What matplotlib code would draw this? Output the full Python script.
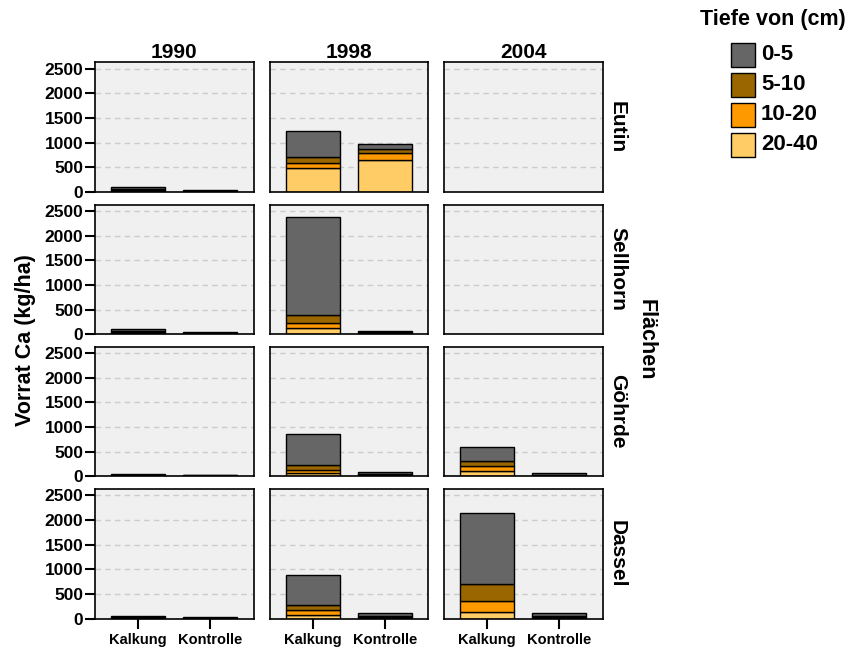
import numpy as np
import matplotlib
matplotlib.use("Agg")
import matplotlib.pyplot as plt
from matplotlib.patches import Rectangle

plt.rcParams['font.family'] = ['Liberation Sans', 'DejaVu Sans']
plt.rcParams['font.weight'] = 'bold'

sites = ["Eutin", "Sellhorn", "Göhrde", "Dassel"]
years = ["1990", "1998", "2004"]
treatments = ["Kalkung", "Kontrolle"]
depths = ["0-5", "5-10", "10-20", "20-40"]
colors = ["#666666", "#996600", "#FF9900", "#FFCC66"]

nan = np.nan
# [site][year][treatment], kg/ha
d0_5 = [[[40, 20], [520, 105], [nan, nan]],
        [[40, 16], [1990, 30], [nan, nan]],
        [[18, 14], [640, 40], [296, 24]],
        [[20, 10], [608, 67], [1434, 50]]]
d5_10 = [[[20, 10], [120, 70], [nan, nan]],
         [[20, 8], [162, 10], [nan, nan]],
         [[9, 7], [95, 16], [95, 12]],
         [[10, 5], [102, 20], [345, 20]]]
d10_20 = [[[20, 10], [115, 155], [nan, nan]],
          [[20, 8], [100, 12], [nan, nan]],
          [[9, 7], [67, 20], [102, 12]],
          [[10, 5], [101, 20], [223, 20]]]
d20_40 = [[[20, 10], [480, 645], [nan, nan]],
          [[20, 8], [128, 15], [nan, nan]],
          [[9, 7], [60, 20], [107, 12]],
          [[10, 5], [69, 15], [142, 20]]]
layers = [d20_40, d10_20, d5_10, d0_5]
layer_colors = [colors[3], colors[2], colors[1], colors[0]]

W, H = 855, 650
fig = plt.figure(figsize=(W / 100, H / 100), dpi=100)

col_left = [95, 269.5, 444]
pw, ph = 158.5, 129.7
row_top = [62.3, 204.5, 346.7, 489]

x = np.arange(1, len(treatments) + 1)
for i, site in enumerate(sites):
    for j, year in enumerate(years):
        ax = fig.add_axes([col_left[j] / W, 1 - (row_top[i] + ph) / H, pw / W, ph / H])
        ax.set_facecolor("#F0F0F0")
        ax.set_xlim(0.4, 2.6)
        ax.set_ylim(0, 2630)
        ax.set_yticks([0, 500, 1000, 1500, 2000, 2500])
        ax.yaxis.grid(True, color="#CCCCCC", linestyle=(0, (4, 3)), linewidth=1)
        ax.set_axisbelow(True)
        bottom = np.zeros(len(treatments))
        for lay, col in zip(layers, layer_colors):
            vals = np.array(lay[i][j], dtype=float)
            if np.all(np.isnan(vals)):
                continue
            ax.bar(x, vals, 0.75, bottom=bottom, color=col, edgecolor="black", linewidth=1.0)
            bottom = bottom + vals
        for s in ax.spines.values():
            s.set_linewidth(1.2)
        ax.tick_params(width=1.5, length=7, labelsize=12.5, pad=1.5)
        if j == 0:
            ax.tick_params(axis='y', left=True, labelleft=True)
        else:
            ax.tick_params(axis='y', left=False, labelleft=False)
        if i == len(sites) - 1:
            ax.set_xticks(x)
            ax.set_xticklabels(treatments, fontsize=10.5, fontweight='bold')
            ax.tick_params(axis='x', pad=3)
        else:
            ax.set_xticks([])
        for lab in ax.get_yticklabels():
            lab.set_fontweight('bold')
        if i == 0:
            ax.set_title(year, fontsize=15, fontweight='bold', pad=3)
        if j == len(years) - 1:
            ax.text(1.035, 0.5, site, transform=ax.transAxes, rotation=-90,
                    ha='left', va='center', fontsize=15, fontweight='bold')

fig.text(25 / W, 1 - 340 / H, "Vorrat Ca (kg/ha)", rotation=90, ha='center', va='center',
         fontsize=15.5, fontweight='bold')
fig.text(646 / W, 1 - 340 / H, "Flächen", rotation=-90, ha='center', va='center',
         fontsize=15.5, fontweight='bold')

# legend drawn by hand
fig.text(773 / W, 1 - 20 / H, "Tiefe von (cm)", ha='center', va='center',
         fontsize=15.5, fontweight='bold')
key_top = [42.7, 73, 103, 132.5]
for lab, col, kt in zip(depths, colors, key_top):
    fig.patches.append(Rectangle((731 / W, 1 - (kt + 24) / H), 24 / W, 24 / H,
                                 transform=fig.transFigure, facecolor=col,
                                 edgecolor="black", linewidth=1.0))
    fig.text(761 / W, 1 - (kt + 12) / H, lab, ha='left', va='center',
             fontsize=16, fontweight='bold')

fig.savefig("out.png", dpi=100)
